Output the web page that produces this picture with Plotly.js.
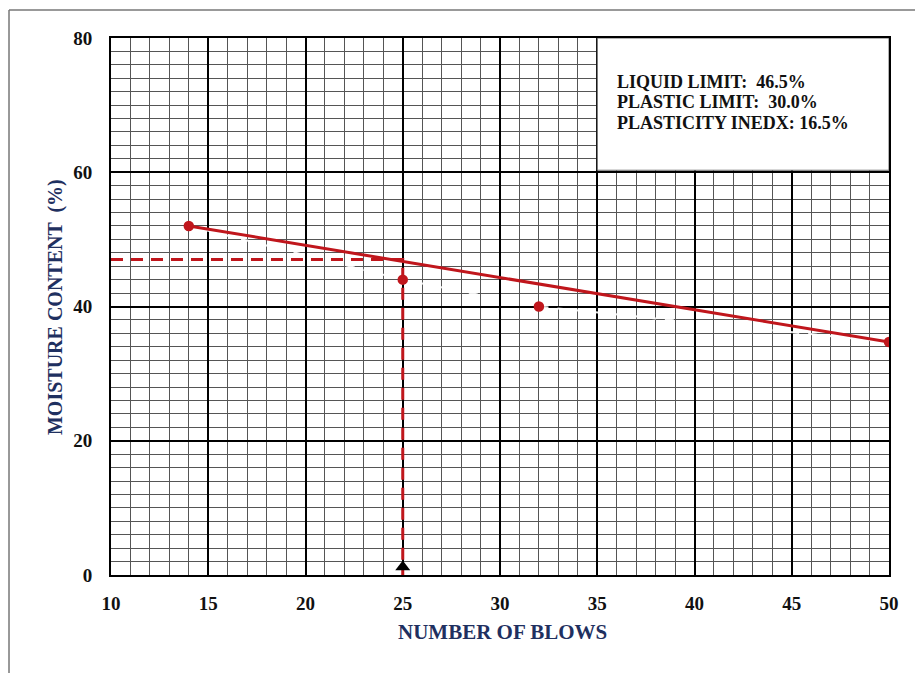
<!DOCTYPE html>
<html><head><meta charset="utf-8">
<script src="https://cdn.plot.ly/plotly-3.0.1.min.js"></script>
<style>html,body{margin:0;padding:0;background:#fff;}#chart{width:915px;height:673px;}</style>
</head><body><div id="chart"></div>
<script>
// Data
const blows = [14, 25, 32, 50];
const moisture = [52, 44, 40, 34.7];
const trendX = [14, 50];
const trendY = [52, 34.7];
const liquidLimitBlows = 25;
const liquidLimitMC = 47;
const xTicks = [10, 15, 20, 25, 30, 35, 40, 45, 50];
const yTicks = [0, 20, 40, 60, 80];
const infoLines = ["LIQUID LIMIT:  46.5%", "PLASTIC LIMIT:  30.0%", "PLASTICITY INEDX: 16.5%"];
const xTitle = "NUMBER OF BLOWS";
const yTitle = "MOISTURE CONTENT &nbsp;(%)";

const red = '#c0161c';
const serif = 'Liberation Serif, Times New Roman, serif';
const navy = '#1f3060';

const traces = [
  {x: blows, y: moisture, mode: 'lines', line: {color: 'rgba(255,255,255,0.9)', width: 2, dash: 'dash'}, hoverinfo: 'skip'},
  {x: trendX, y: trendY, mode: 'lines', line: {color: red, width: 3}},
  {x: [xTicks[0], liquidLimitBlows, liquidLimitBlows], y: [liquidLimitMC, liquidLimitMC, 0], mode: 'lines', line: {color: red, width: 3, dash: '12px,8px'}},
  {x: blows, y: moisture, mode: 'markers', marker: {color: red, size: 10.5}},
  {x: [liquidLimitBlows], y: [1.2], mode: 'markers', marker: {color: '#000', size: 13, symbol: 'triangle-up'}}
];

const annotations = infoLines.map((t, i) => ({
  text: '<b>' + t + '</b>', x: 35.9, y: 73.4 - i * 3.0, xref: 'x', yref: 'y',
  xanchor: 'left', yanchor: 'middle', showarrow: false,
  font: {family: serif, size: 18, color: '#111'}
}));
annotations.push({
  text: '<b>' + xTitle + '</b>', xref: 'paper', yref: 'paper', x: 0.503, y: -0.106,
  xanchor: 'center', yanchor: 'middle', showarrow: false,
  font: {family: serif, size: 21, color: navy}
});
annotations.push({
  text: '<b>' + yTitle + '</b>', xref: 'paper', yref: 'paper', x: -0.072, y: 0.499,
  xanchor: 'center', yanchor: 'middle', showarrow: false, textangle: -90,
  font: {family: serif, size: 20, color: navy}
});

const layout = {
  width: 915, height: 673,
  margin: {l: 111, r: 26, t: 38, b: 98},
  paper_bgcolor: '#fff', plot_bgcolor: '#fff',
  showlegend: false,
  xaxis: {
    range: [10, 50], tickvals: xTicks, ticktext: xTicks.map(String),
    showgrid: true, gridcolor: '#000', gridwidth: 2,
    minor: {dtick: 1, tick0: 10, showgrid: true, gridcolor: '#555', gridwidth: 1},
    showline: true, linecolor: '#000', linewidth: 2, mirror: true, zeroline: false,
    ticks: '', ticklen: 0, ticklabelstandoff: 10,
    tickfont: {family: serif, size: 19, color: '#111', weight: 'bold'}
  },
  yaxis: {
    range: [0, 80], tickvals: yTicks, ticktext: yTicks.map(String),
    showgrid: true, gridcolor: '#000', gridwidth: 2,
    minor: {dtick: 2, tick0: 0, showgrid: true, gridcolor: '#555', gridwidth: 1},
    showline: true, linecolor: '#000', linewidth: 2, mirror: true, zeroline: false,
    ticks: '', ticklen: 0, ticklabelstandoff: 13,
    tickfont: {family: serif, size: 19, color: '#111', weight: 'bold'}
  },
  shapes: [
    {type: 'rect', xref: 'x', yref: 'y', x0: 35, x1: 50, y0: 60.3, y1: 80, fillcolor: '#fff', line: {color: '#666', width: 1}, layer: 'above'},
    {type: 'line', xref: 'paper', yref: 'paper', x0: -0.1311, x1: -0.1311, y0: 1.0521, y1: -0.19, line: {color: '#777', width: 1.5}},
    {type: 'line', xref: 'paper', yref: 'paper', x0: -0.1311, x1: 1.04, y0: 1.0521, y1: 1.0521, line: {color: '#777', width: 1.5}}
  ],
  annotations: annotations
};

Plotly.newPlot('chart', traces, layout, {displayModeBar: false, staticPlot: true});
</script></body></html>
